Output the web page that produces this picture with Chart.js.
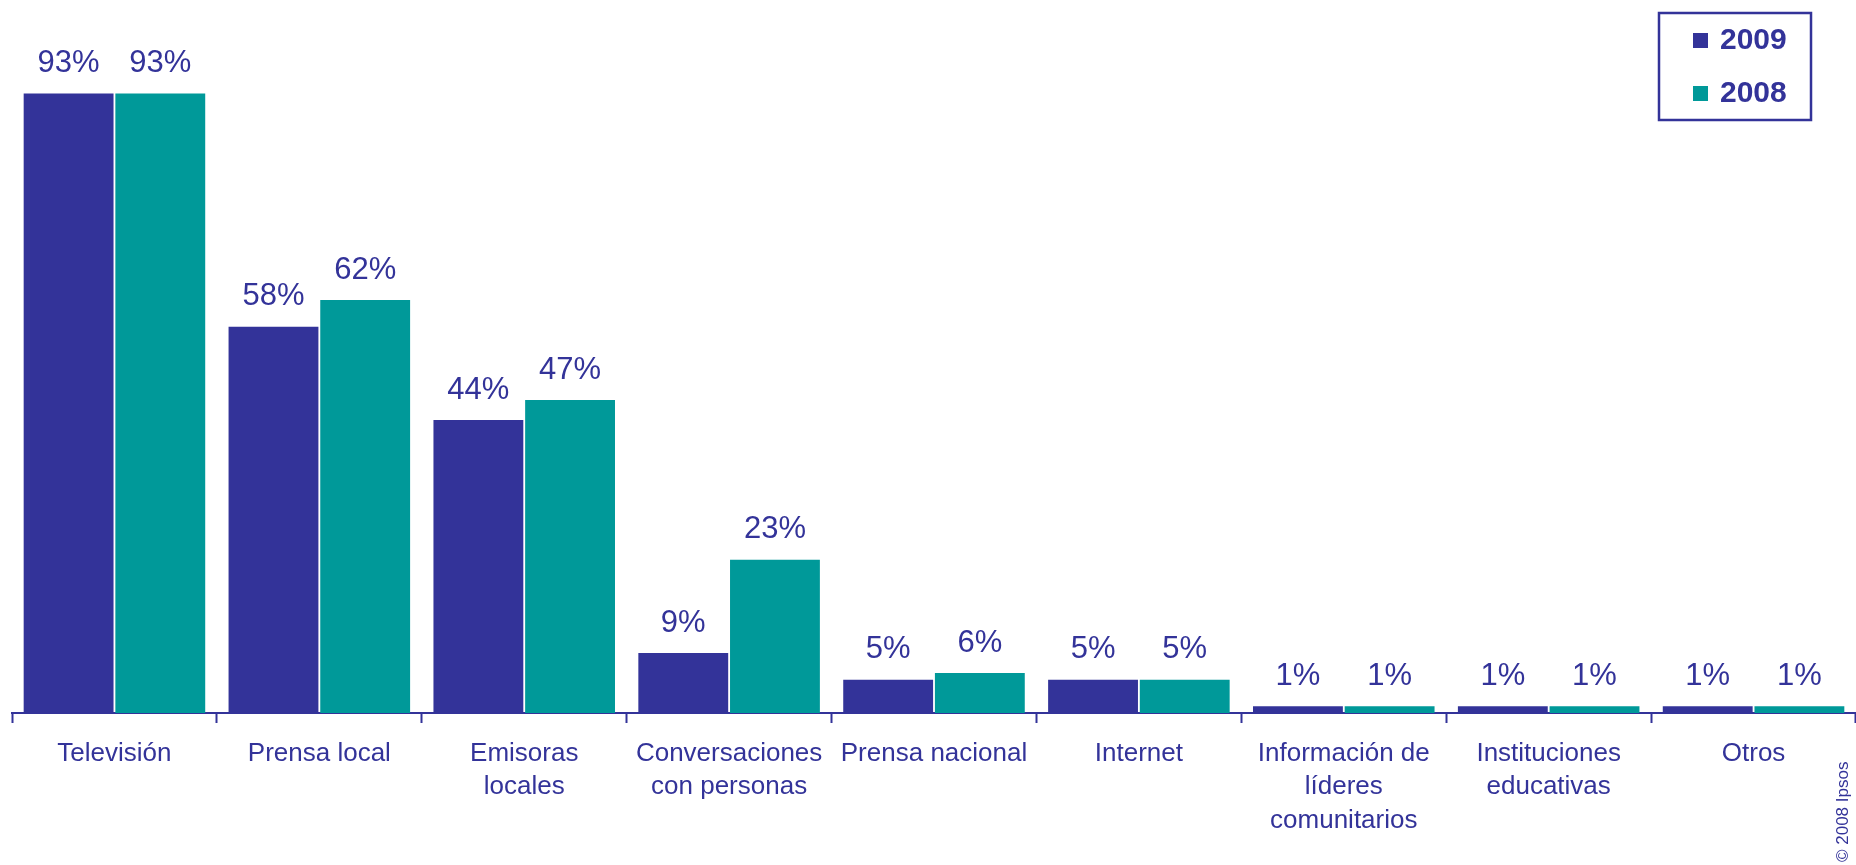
<!DOCTYPE html>
<html>
<head>
<meta charset="utf-8">
<script src="https://cdn.jsdelivr.net/npm/chart.js@4/dist/chart.umd.min.js"></script>
<style>
  html, body { margin: 0; padding: 0; background: #fff; }
  #wrap { width: 1856px; height: 865px; position: relative; }
</style>
</head>
<body>
<div id="wrap"><canvas id="c"></canvas></div>
<script>
const categories = [
  'Televisión',
  'Prensa local',
  ['Emisoras', 'locales'],
  ['Conversaciones', 'con personas'],
  'Prensa nacional',
  'Internet',
  ['Información de', 'líderes', 'comunitarios'],
  ['Instituciones', 'educativas'],
  'Otros',
];
const seriesNames = ['2009', '2008'];
const values2009 = [93, 58, 44, 9, 5, 5, 1, 1, 1];
const values2008 = [93, 62, 47, 23, 6, 5, 1, 1, 1];

const NAVY = '#333399';
const TEAL = '#009999';
const FONT = '"Liberation Sans", Arial, sans-serif';

// Percent labels above each bar
const valueLabels = {
  id: 'value-labels',
  afterDatasetsDraw(chart) {
    const ctx = chart.ctx;
    ctx.save();
    ctx.font = '31px ' + FONT;
    ctx.fillStyle = NAVY;
    ctx.textAlign = 'center';
    ctx.textBaseline = 'middle';
    chart.data.datasets.forEach((ds, di) => {
      chart.getDatasetMeta(di).data.forEach((bar, i) => {
        ctx.fillText(ds.data[i] + '%', bar.x, bar.y - 30);
      });
    });
    ctx.restore();
  },
};

// Boxed legend in the top right corner, drawn over the plot
const boxLegend = {
  id: 'box-legend',
  afterDraw(chart) {
    const ctx = chart.ctx;
    ctx.save();
    ctx.strokeStyle = NAVY;
    ctx.lineWidth = 2.5;
    ctx.strokeRect(1659, 13, 152, 107);
    ctx.font = 'bold 30px ' + FONT;
    ctx.textBaseline = 'middle';
    ctx.textAlign = 'left';
    chart.data.datasets.forEach((ds, i) => {
      const cy = 40 + i * 53;
      ctx.fillStyle = ds.backgroundColor;
      ctx.fillRect(1693, cy - 7, 15, 15);
      ctx.fillStyle = NAVY;
      ctx.fillText(ds.label, 1720, cy + 1);
    });
    ctx.restore();
  },
};

// Vertical copyright at the right edge
const copyright = {
  id: 'copyright',
  afterDraw(chart) {
    const ctx = chart.ctx;
    ctx.save();
    ctx.translate(1843, 862);
    ctx.rotate(-Math.PI / 2);
    ctx.font = '17px ' + FONT;
    ctx.fillStyle = NAVY;
    ctx.textAlign = 'left';
    ctx.textBaseline = 'middle';
    ctx.fillText('© 2008 Ipsos', 0, 0);
    ctx.restore();
  },
};

new Chart(document.getElementById('c'), {
  type: 'bar',
  data: {
    labels: categories,
    datasets: [
      { label: seriesNames[0], data: values2009, backgroundColor: NAVY },
      { label: seriesNames[1], data: values2008, backgroundColor: TEAL },
    ],
  },
  options: {
    responsive: true,
    maintainAspectRatio: false,
    animation: false,
    devicePixelRatio: 1,
    categoryPercentage: 0.895,
    barPercentage: 0.98,
    layout: { padding: { top: 47, left: 12, right: 0, bottom: 0 } },
    scales: {
      x: {
        grid: {
          display: true,
          drawOnChartArea: false,
          drawTicks: true,
          tickLength: 10,
          tickWidth: 2,
          color: NAVY,
          offset: true,
        },
        border: { display: true, color: NAVY, width: 2 },
        ticks: {
          color: NAVY,
          font: { family: FONT, size: 26, lineHeight: 1.29 },
          padding: 14,
          maxRotation: 0,
          autoSkip: false,
        },
        afterFit(scale) { scale.height = 152; },
      },
      y: {
        display: false,
        min: 0,
        max: 100,
      },
    },
    plugins: {
      legend: { display: false },
      tooltip: { enabled: false },
    },
  },
  plugins: [valueLabels, boxLegend, copyright],
});
</script>
</body>
</html>
